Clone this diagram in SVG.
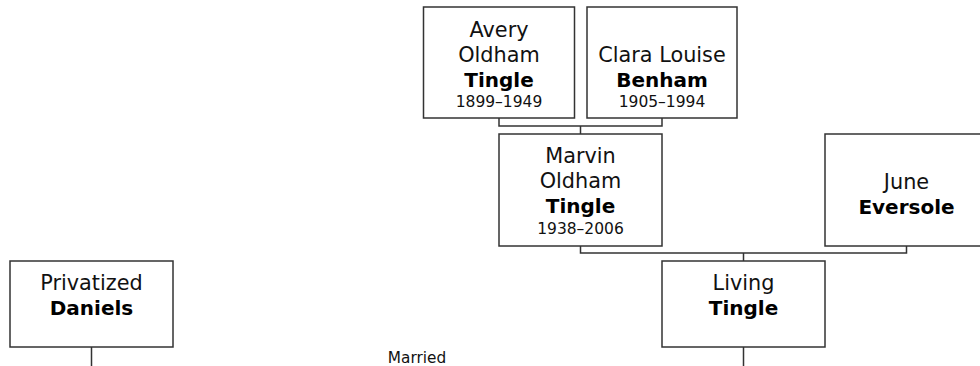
<svg xmlns="http://www.w3.org/2000/svg" width="980" height="366" viewBox="0 0 980 366">
<style>
.box{fill:#fff;stroke:#333;stroke-width:1.5}
.ln{fill:none;stroke:#333;stroke-width:1.5}
text{font-family:"DejaVu Sans","Verdana",sans-serif;fill:#111;text-anchor:middle}
.n{font-size:20.8px}
.b{font-size:20px;font-weight:bold;fill:#000}
.d{font-size:15.5px}
.m{font-size:15.3px}
</style>
<rect width="980" height="366" fill="#fff"/>
<g id="connectors">
<path class="ln" d="M499,118V126H662V118M580.5,126V134"/>
<path class="ln" d="M580.5,246V253H906.5V246M743.5,253V261"/>
<path class="ln" d="M91.5,347V366M743.5,347V366"/>
<text class="m" x="417" y="363">Married</text>
</g>
<g id="avery">
<rect class="box" x="423.5" y="7" width="151" height="111"/>
<text class="n" x="499" y="37">Avery</text>
<text class="n" x="499" y="62">Oldham</text>
<text class="b" x="499" y="87">Tingle</text>
<text class="d" x="499" y="107">1899–1949</text>
</g>
<g id="clara">
<rect class="box" x="587" y="7" width="150" height="111"/>
<text class="n" x="662" y="62">Clara Louise</text>
<text class="b" x="662" y="87">Benham</text>
<text class="d" x="662" y="107">1905–1994</text>
</g>
<g id="marvin">
<rect class="box" x="499" y="134" width="163" height="112"/>
<text class="n" x="580.5" y="163">Marvin</text>
<text class="n" x="580.5" y="188">Oldham</text>
<text class="b" x="580.5" y="213">Tingle</text>
<text class="d" x="580.5" y="234">1938–2006</text>
</g>
<g id="june">
<rect class="box" x="825" y="134" width="163" height="112"/>
<text class="n" x="906.5" y="189">June</text>
<text class="b" x="906.5" y="214">Eversole</text>
</g>
<g id="living">
<rect class="box" x="662" y="261" width="163" height="86"/>
<text class="n" x="743.5" y="290">Living</text>
<text class="b" x="743.5" y="315">Tingle</text>
</g>
<g id="privatized">
<rect class="box" x="10" y="261" width="163" height="86"/>
<text class="n" x="91.5" y="290">Privatized</text>
<text class="b" x="91.5" y="315">Daniels</text>
</g>
</svg>
